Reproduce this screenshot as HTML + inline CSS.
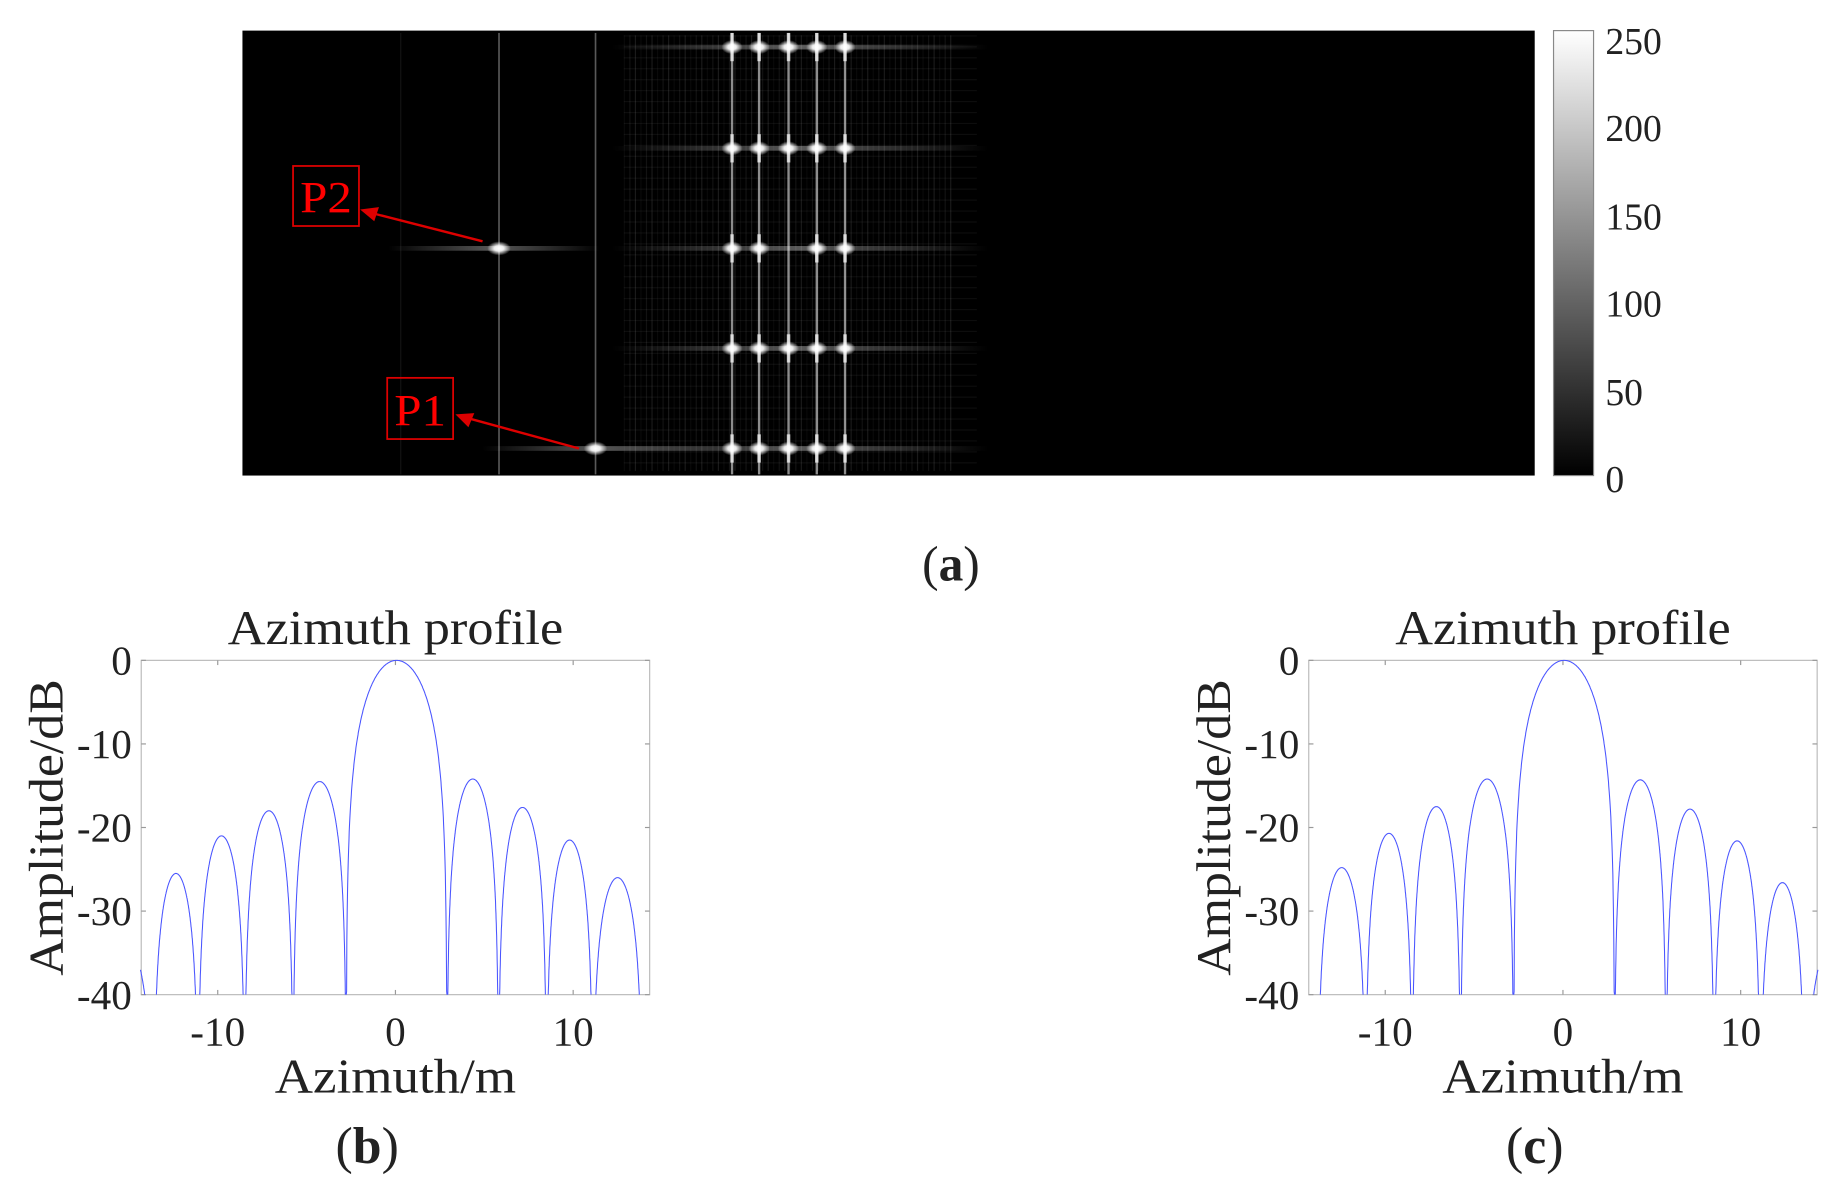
<!DOCTYPE html>
<html><head><meta charset="utf-8"><style>
html,body{margin:0;padding:0;background:#fff;}
svg{display:block;}
text{font-family:"Liberation Serif",serif;fill:#222;}
</style></head><body>
<svg id="s" width="1836" height="1203" viewBox="0 0 1560 1022" preserveAspectRatio="none" xmlns="http://www.w3.org/2000/svg">
<defs>
<linearGradient id="cb" x1="0" y1="1" x2="0" y2="0"><stop offset="0" stop-color="#000"/><stop offset="1" stop-color="#fff"/></linearGradient>
<radialGradient id="dot"><stop offset="0" stop-color="#fff"/><stop offset="0.4" stop-color="#fff" stop-opacity="0.9"/><stop offset="1" stop-color="#fff" stop-opacity="0"/></radialGradient>
<linearGradient id="hl" x1="0" x2="1"><stop offset="0" stop-color="#fff" stop-opacity="0"/><stop offset="0.5" stop-color="#fff" stop-opacity="0.35"/><stop offset="1" stop-color="#fff" stop-opacity="0"/></linearGradient>
</defs>
<rect x="206" y="26" width="1098" height="378" fill="#000"/>
<g id="img"></g>
<rect x="249" y="141" width="56" height="51" fill="none" stroke="#d00" stroke-width="1.5"/>
<text x="277" y="180" text-anchor="middle" font-size="38" textLength="44" lengthAdjust="spacingAndGlyphs" style="fill:#f00">P2</text>
<line x1="410" y1="205" x2="312" y2="180" stroke="#d00" stroke-width="2"/>
<polygon points="306,178 322,176 318,188" fill="#d00"/>
<rect x="329" y="321" width="56" height="52" fill="none" stroke="#d00" stroke-width="1.5"/>
<text x="357" y="361" text-anchor="middle" font-size="38" textLength="44" lengthAdjust="spacingAndGlyphs" style="fill:#f00">P1</text>
<line x1="492" y1="381" x2="393" y2="354" stroke="#d00" stroke-width="2"/>
<polygon points="387,352 403,351 398,363" fill="#d00"/>
<rect x="1320" y="26" width="34" height="378" fill="url(#cb)" stroke="#888" stroke-width="1"/>
<g font-size="32">
<text x="1364" y="46">250</text><text x="1364" y="120">200</text><text x="1364" y="195">150</text>
<text x="1364" y="269">100</text><text x="1364" y="344">50</text><text x="1364" y="418">0</text>
</g>
<text x="808" y="493" text-anchor="middle" font-size="42">(<tspan font-weight="bold">a</tspan>)</text>
<g id="plots"></g>
</svg>
<script>
var ns="http://www.w3.org/2000/svg";
function el(p,t,a,txt){var e=document.createElementNS(ns,t);for(var k in a)e.setAttribute(k,a[k]);if(txt!=null)e.textContent=txt;p.appendChild(e);return e;}
var img=document.getElementById('img');
var cols=[622,645,670,694,718],rows=[40,126,211,296,381];
for(var i=0;i<60;i++){var x=530+i*4.7;el(img,'rect',{x:x,y:30,width:1,height:370,fill:'#fff',opacity:0.04+0.03*(i%3)});}
for(var j=0;j<40;j++){el(img,'rect',{x:530,y:30+j*9.3,width:300,height:1,fill:'#fff',opacity:0.05});}
rows.forEach(function(y){el(img,'rect',{x:520,y:y-2,width:320,height:4,fill:'url(#hl)'});});
cols.forEach(function(x){el(img,'rect',{x:x-1,y:28,width:2,height:375,fill:'#fff',opacity:0.55});});
[424,506].forEach(function(x){el(img,'rect',{x:x-0.7,y:28,width:1.4,height:375,fill:'#fff',opacity:0.35});});
el(img,'rect',{x:340,y:28,width:1,height:375,fill:'#fff',opacity:0.08});
rows.forEach(function(y,ri){cols.forEach(function(x,ci){if(ri==2&&ci==2)return;el(img,'ellipse',{cx:x,cy:y,rx:9,ry:6,fill:'url(#dot)'});el(img,'rect',{x:x-1.5,y:y-12,width:3,height:24,fill:'#fff',opacity:0.7});});});
el(img,'rect',{x:330,y:209,width:180,height:4,fill:'url(#hl)'});
el(img,'ellipse',{cx:424,cy:211,rx:10,ry:6,fill:'url(#dot)'});
el(img,'rect',{x:410,y:379,width:200,height:4,fill:'url(#hl)'});
el(img,'ellipse',{cx:506,cy:381,rx:10,ry:6,fill:'url(#dot)'});

var P=document.getElementById('plots');
function plot(x0,lbl,nullsL,nullsR,peaksL,peaksR){
 var L=x0+120,R=x0+552,T=561,B=845,cx=x0+336,sx=15.1,sy=(B-T)/40;
 el(P,'rect',{x:L,y:T,width:R-L,height:B-T,fill:'none',stroke:'#bbb','stroke-width':1});
 [-10,0,10].forEach(function(v){var X=cx+v*sx;el(P,'line',{x1:X,y1:B,x2:X,y2:B-4,stroke:'#999'});el(P,'line',{x1:X,y1:T,x2:X,y2:T+4,stroke:'#999'});
  el(P,'text',{x:X,y:888,'text-anchor':'middle','font-size':35},String(v));});
 [0,-10,-20,-30,-40].forEach(function(v){var Y=T-v*sy;el(P,'line',{x1:L,y1:Y,x2:L+4,y2:Y,stroke:'#999'});el(P,'line',{x1:R,y1:Y,x2:R-4,y2:Y,stroke:'#999'});
  el(P,'text',{x:L-8,y:Y+12,'text-anchor':'end','font-size':35},String(v));});
 el(P,'text',{x:cx,y:547,'text-anchor':'middle','font-size':41,textLength:285,lengthAdjust:'spacingAndGlyphs'},'Azimuth profile');
 el(P,'text',{x:cx,y:928,'text-anchor':'middle','font-size':41,textLength:205,lengthAdjust:'spacingAndGlyphs'},'Azimuth/m');
 el(P,'text',{x:0,y:0,'text-anchor':'middle','font-size':41,textLength:252,lengthAdjust:'spacingAndGlyphs',transform:'translate('+(x0+53)+',703) rotate(-90)'},'Amplitude/dB');
 var t=el(P,'text',{x:cx-24,y:988,'text-anchor':'middle','font-size':44},'(');el(t,'tspan',{'font-weight':'bold'},lbl);el(t,'tspan',{},')');
 var nulls=nullsL.slice().reverse().concat(nullsR);var peaks=peaksL.slice().reverse().concat([0]).concat(peaksR);
 var d='';var eL=-14.35,eR=14.35;
 var bounds=[eL-2.7].concat(nulls).concat([eR+2.7]);
 for(var i=0;i<bounds.length-1;i++){
  var a=bounds[i],b=bounds[i+1],p=peaks[i]!=null?peaks[i]:-33;var started=false;
  for(var k=0;k<=300;k++){var xm=a+(b-a)*k/300;if(xm<eL||xm>eR)continue;
   var s=Math.sin(Math.PI*k/300);var v=p+20*Math.log10(Math.max(s,1e-6));
   var vc=v<-40?-40:v;var X=cx+xm*sx,Y=T-vc*sy;
   if(v<-40){ if(started){d+='L'+X.toFixed(1)+','+Y.toFixed(1);started=false;} else {var pend='M'+X.toFixed(1)+','+Y.toFixed(1);} continue;}
   if(!started){d+=(pend||('M'+X.toFixed(1)+','+Y.toFixed(1)));started=true;pend=null;}
   d+='L'+X.toFixed(1)+','+Y.toFixed(1);}
 }
 el(P,'path',{d:d,fill:'none',stroke:'#4a55ff','stroke-width':0.9});
}
plot(0,'b',[-2.77,-5.76,-8.48,-11.1,-13.6],[2.9,5.8,8.5,11.1,13.9],[-14.5,-18,-21,-25.5,-33],[-14.2,-17.6,-21.5,-26]);
plot(992,'c',[-2.77,-5.76,-8.48,-11.1,-13.8],[2.9,5.8,8.5,11.1,13.6],[-14.2,-17.5,-20.7,-24.8,-34],[-14.3,-17.8,-21.6,-26.6]);
</script>
</body></html>
